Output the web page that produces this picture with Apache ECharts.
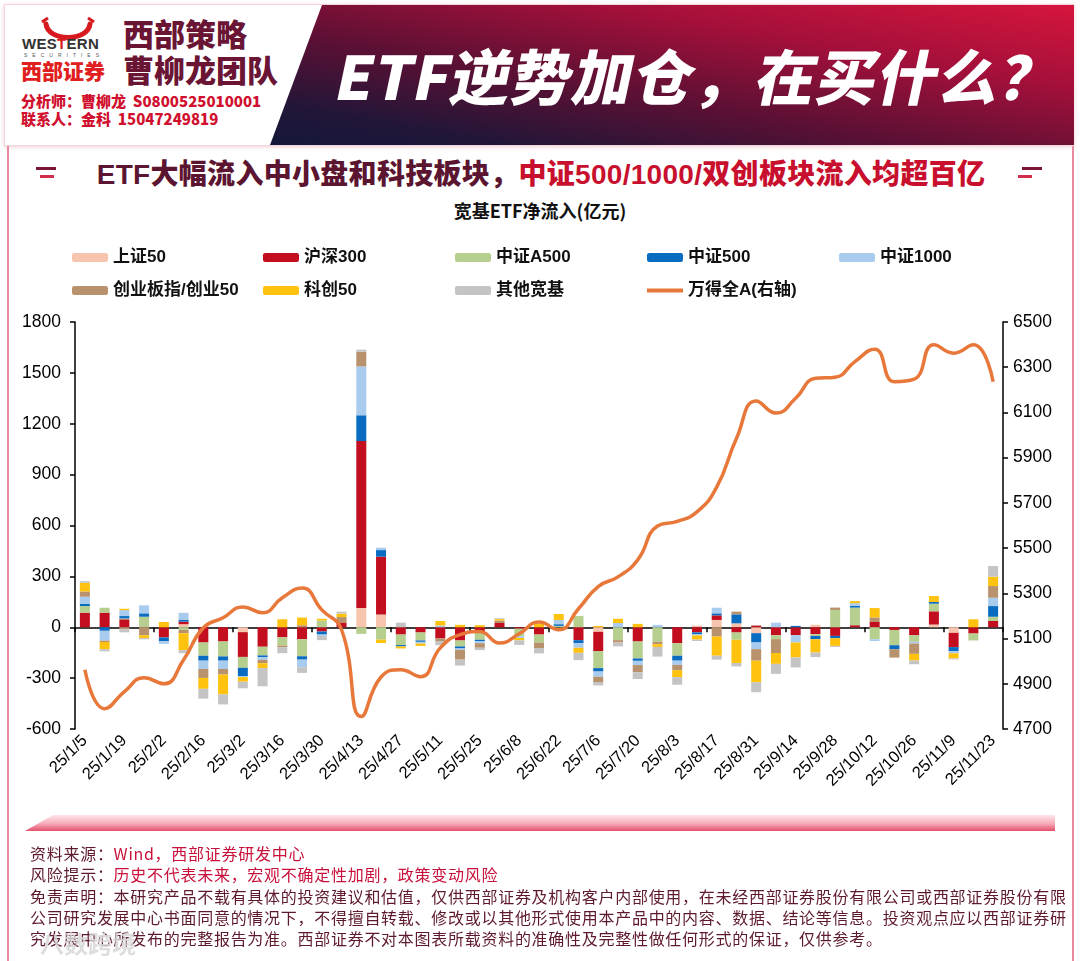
<!DOCTYPE html>
<html><head><meta charset="utf-8">
<script src="https://cdn.jsdelivr.net/npm/echarts@6/dist/echarts.min.js"></script>
<style>
html,body{margin:0;padding:0;background:#fff;}
body{width:1080px;height:961px;position:relative;overflow:hidden;font-family:'Noto Sans CJK SC','Noto Sans',sans-serif;}
#chart{position:absolute;left:0;top:0;width:1080px;height:961px;}
.abs{position:absolute;white-space:nowrap;}
#hdrbox{left:4px;top:4px;width:1068px;height:140px;border:1px solid #f2d6dd;box-shadow:0 1px 4px rgba(200,60,90,0.25);background:#fff;}
#banner{left:270px;top:5px;width:804px;height:140px;clip-path:polygon(52px 0,100% 0,100% 100%,0 100%);
 background:linear-gradient(to bottom left,#d6153d 0%,#a3103a 30%,#5a1034 60%,#221638 85%,#14183a 100%);}
#bigtitle{left:330px;top:38px;font-size:60px;line-height:72px;font-weight:900;color:#fff;transform:skewX(-12deg);transform-origin:left bottom;letter-spacing:1px;}
.team{font-size:31px;line-height:34px;font-weight:900;color:#6b1535;}
.contact{font-size:15px;line-height:18px;font-weight:900;color:#d0102e;}
#title{left:0;top:155px;width:1082px;text-align:center;font-size:28px;line-height:34px;font-weight:900;letter-spacing:0.3px;}
#subtitle{left:0;top:198px;width:1080px;text-align:center;font-size:18px;line-height:24px;font-weight:700;color:#111;}
.foot{left:30px;font-size:16px;line-height:22px;letter-spacing:0.72px;color:#5e1a2c;}
.red{color:#c8103a;}
.frame{background:#e98aa0;}
</style></head>
<body>
<div id="hdrbox" class="abs"></div>
<div id="banner" class="abs"></div>
<div id="bigtitle" class="abs">ETF逆势加仓，在买什么？</div>
<svg class="abs" style="left:18px;top:16px" width="100" height="72" viewBox="0 0 100 72">
  <path d="M28,8 C30,26 70,26 72,8" stroke="#d71920" stroke-width="5" fill="none" stroke-linecap="round"/>
  <path d="M24,6 L30,2" stroke="#d71920" stroke-width="3"/>
  <path d="M76,6 L70,2" stroke="#d71920" stroke-width="3"/>
</svg>
<div class="abs" style="left:22px;top:36px;font-size:15px;line-height:16px;font-weight:900;color:#333;font-family:'Liberation Sans',Arial,sans-serif;letter-spacing:0.3px">WES<span style="color:#d71920">T</span>ERN</div>
<div class="abs" style="left:24px;top:52px;font-size:5px;line-height:6px;color:#555;letter-spacing:5px;font-family:'Liberation Sans',Arial,sans-serif">SECURITIES</div>
<div class="abs" style="left:21px;top:58px;font-size:21px;line-height:24px;font-weight:900;color:#e02020">西部证券</div>
<div class="abs team" style="left:123px;top:16px">西部策略</div>
<div class="abs team" style="left:123px;top:52px">曹柳龙团队</div>
<div class="abs contact" style="left:21px;top:92px">分析师：曹柳龙&nbsp;&nbsp;S0800525010001</div>
<div class="abs contact" style="left:21px;top:110px">联系人：金科&nbsp;&nbsp;15047249819</div>

<div class="abs frame" style="left:7px;top:146px;width:2px;height:815px"></div>
<div class="abs frame" style="left:1072px;top:146px;width:2px;height:815px"></div>

<div class="abs" style="left:36px;top:167px;width:20px;height:3px;background:#7a1535"></div>
<div class="abs" style="left:40px;top:175px;width:14px;height:3px;background:#d0304a"></div>
<div class="abs" style="left:1022px;top:167px;width:20px;height:3px;background:#7a1535"></div>
<div class="abs" style="left:1018px;top:175px;width:14px;height:3px;background:#d0304a"></div>

<div id="title" class="abs"><span style="color:#5b1530;font-family:'Liberation Sans',Arial,sans-serif">ETF</span><span style="color:#5b1530">大幅流入中小盘和科技板块，</span><span style="color:#c8102e">中证<span style="font-family:'Liberation Sans',Arial,sans-serif">500/1000/</span>双创板块流入均超百亿</span></div>
<div id="subtitle" class="abs">宽基ETF净流入(亿元)</div>

<div id="chart"></div>

<div class="abs" style="left:25px;top:815px;width:1030px;height:16px;clip-path:polygon(28px 0,100% 0,100% 100%,0 100%);background:linear-gradient(to bottom,#fde6ea 0%,#f6a9b8 55%,#e4506c 100%)"></div>

<div class="abs foot" style="top:842px">资料来源：<span class="red">Wind，西部证券研发中心</span></div>
<div class="abs foot" style="top:863px">风险提示：<span class="red">历史不代表未来，宏观不确定性加剧，政策变动风险</span></div>
<div class="abs foot" style="top:885px">免责声明：本研究产品不载有具体的投资建议和估值，仅供西部证券及机构客户内部使用，在未经西部证券股份有限公司或西部证券股份有限</div>
<div class="abs foot" style="top:906px">公司研究发展中心书面同意的情况下，不得擅自转载、修改或以其他形式使用本产品中的内容、数据、结论等信息。投资观点应以西部证券研</div>
<div class="abs foot" style="top:927px">究发展中心所发布的完整报告为准。西部证券不对本图表所载资料的准确性及完整性做任何形式的保证，仅供参考。</div>
<div class="abs" style="left:40px;top:929px;font-size:24px;line-height:28px;font-weight:700;color:#d8d8d8;opacity:0.85">八数跨境</div>

<script>
const weeks = ['25/1/5','25/1/12','25/1/19','25/1/26','25/2/2','25/2/9','25/2/16','25/2/23','25/3/2','25/3/9','25/3/16','25/3/23','25/3/30','25/4/6','25/4/13','25/4/20','25/4/27','25/5/4','25/5/11','25/5/18','25/5/25','25/6/1','25/6/8','25/6/15','25/6/22','25/6/29','25/7/6','25/7/13','25/7/20','25/7/27','25/8/3','25/8/10','25/8/17','25/8/24','25/8/31','25/9/7','25/9/14','25/9/21','25/9/28','25/10/5','25/10/12','25/10/19','25/10/26','25/11/2','25/11/9','25/11/16','25/11/23'];

const sz50   = [0,0,0,0,0,18,0,0,-29,0,0,0,0,0,114,75,0,0,0,0,0,0,0,0,0,0,-27,0,0,0,0,10,43,23,-35,0,0,15,0,0,0,0,0,16,-33,0,0];
const hs300  = [86,86,47,0,-60,15,-90,-84,-146,-115,-59,-70,-25,25,984,341,-43,-31,-66,-78,-27,25,-8,-43,0,-76,-113,0,-84,0,-94,-30,27,-31,10,-47,-47,-41,-51,12,31,-16,-47,78,-84,-37,37];
const a500   = [39,29,5,62,0,-15,-78,-88,-64,-51,-49,-101,40,0,-39,-73,-62,-47,0,-35,-47,0,-45,-47,8,66,-101,-76,-100,-86,-74,0,0,-43,0,-23,0,-10,102,104,-71,-90,-39,45,0,-41,25];
const zz500  = [14,-21,14,20,-22,12,-29,-25,-49,-10,0,-20,-18,0,152,39,-8,-8,0,-12,-8,0,0,0,10,-18,-20,0,-14,0,-29,-10,12,53,-55,0,8,-20,-14,10,0,-24,0,10,-24,0,63];
const zz1000 = [41,-58,35,47,-16,40,-49,-49,-6,-16,0,-45,-8,0,288,14,0,-10,10,-8,-12,0,-10,0,25,-27,-31,25,-25,14,-25,-8,33,0,-39,27,-43,0,0,16,-10,0,-10,0,-12,0,49];
const cyb    = [31,-8,-12,-47,0,-20,-53,-33,0,-20,-10,12,0,35,87,0,0,0,-15,-58,-27,15,0,-33,0,0,-31,-14,-43,-14,-31,0,-55,16,-68,-82,0,0,14,0,27,-49,-61,0,0,0,69];
const kc50   = [51,-43,8,-16,31,-100,-64,-117,-27,-29,47,45,10,20,0,-20,-12,-14,27,14,12,8,-14,20,35,-30,8,25,20,-16,-41,-25,-113,-137,-127,-64,-88,-78,-45,12,55,0,-39,35,-31,47,55];
const others = [10,-12,-18,-8,0,-18,-58,-59,-39,-107,-35,-33,-25,12,12,0,27,0,-25,-35,-14,5,-27,-31,0,-43,-20,-23,-39,-57,-45,-8,-23,-20,-59,-59,-59,-27,-6,0,0,0,-22,0,-6,0,63];
const windA  = [4962,4790,4865,4927,4900,5006,5148,5192,5240,5214,5280,5324,5227,5139,4755,4930,4962,4931,5059,5117,5131,5080,5121,5173,5139,5232,5330,5373,5448,5598,5618,5660,5770,5985,6151,6097,6163,6251,6256,6325,6380,6236,6247,6399,6362,6399,6236];

const leftTicks = [-600, 1800, 300];
const rightTicks = [4700, 6500, 200];

const barNames = ['上证50','沪深300','中证A500','中证500','中证1000','创业板指/创业50','科创50','其他宽基'];
const lineName = '万得全A(右轴)';
const barData = [sz50, hs300, a500, zz500, zz1000, cyb, kc50, others];
const barColors = ['#f7c4ad','#c20e1e','#b6cf8e','#0a6cc0','#a8cbee','#b8926c','#ffc20e','#c4c4c4'];

const font = "'Liberation Sans',Arial,'Noto Sans CJK SC',sans-serif";

const series = barNames.map((n, i) => ({
  name: n, type: 'bar', stack: 'etf', xAxisIndex: 0, yAxisIndex: 0,
  barWidth: 10, data: barData[i], itemStyle: {color: barColors[i]}, z: 2
}));
series.push({
  name: lineName, type: 'line', xAxisIndex: 0, yAxisIndex: 1, data: windA,
  smooth: 0.5, showSymbol: false, symbol: 'none', z: 5,
  lineStyle: {color: '#e8773a', width: 3.5}, itemStyle: {color: '#e8773a'}
});

const legendX = [67, 258, 450, 642, 834];
const legendRows = [[barNames[0], barNames[1], barNames[2], barNames[3], barNames[4]], [barNames[5], barNames[6], barNames[7], lineName]];
const legendTops = [244, 277];
const legends = [];
legendRows.forEach((row, r) => row.forEach((n, k) => {
  const isLine = n === lineName;
  legends.push({
    data: [isLine ? {name: n, icon: 'rect'} : n],
    left: legendX[k], top: legendTops[r],
    itemWidth: 36, itemHeight: isLine ? 4 : 9, itemGap: 5,
    textStyle: {fontSize: 17, fontWeight: 'bold', color: '#111', fontFamily: font},
    selectedMode: false
  });
}));

const plain = v => String(v);

const chart = echarts.init(document.getElementById('chart'), null, {renderer: 'canvas'});
chart.setOption({
  animation: false,
  backgroundColor: 'transparent',
  legend: legends,
  grid: {left: 75, right: 77, top: 322, bottom: 232, containLabel: false},
  xAxis: [
    {type: 'category', data: weeks, position: 'bottom', boundaryGap: true,
     axisLine: {show: false, onZero: false}, axisTick: {show: false},
     axisLabel: {interval: 1, rotate: 45, fontSize: 16.5, color: '#000', fontFamily: font, margin: 9}},
    {type: 'category', data: weeks, position: 'bottom', boundaryGap: true,
     axisLine: {show: true, onZero: true, onZeroAxisIndex: 0, lineStyle: {color: '#000', width: 1.5}},
     axisTick: {show: true, length: 5, lineStyle: {color: '#000', width: 1.5}},
     axisLabel: {show: false}}
  ],
  yAxis: [
    {type: 'value', min: leftTicks[0], max: leftTicks[1], interval: leftTicks[2], position: 'left',
     axisLine: {show: true, lineStyle: {color: '#000', width: 1.5}},
     axisTick: {show: true, length: 5, lineStyle: {color: '#000', width: 1.5}},
     splitLine: {show: false},
     axisLabel: {fontSize: 17.5, color: '#000', fontFamily: font, margin: 14, formatter: plain}},
    {type: 'value', min: rightTicks[0], max: rightTicks[1], interval: rightTicks[2], position: 'right',
     axisLine: {show: true, lineStyle: {color: '#000', width: 1.5}},
     axisTick: {show: true, length: 5, lineStyle: {color: '#000', width: 1.5}},
     splitLine: {show: false},
     axisLabel: {fontSize: 17.5, color: '#000', fontFamily: font, margin: 10, formatter: plain}}
  ],
  series: series
});
</script>
</body></html>
